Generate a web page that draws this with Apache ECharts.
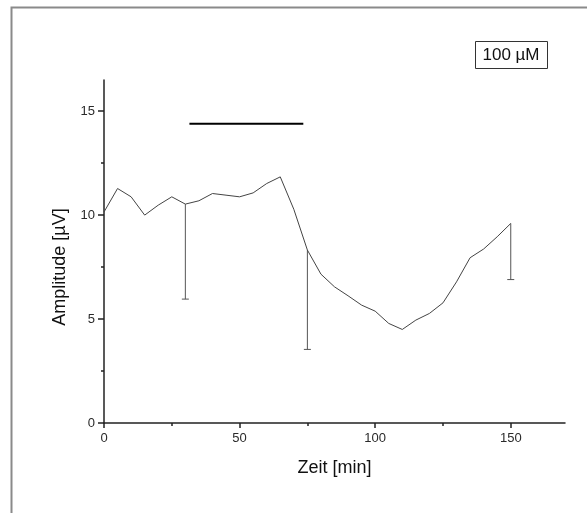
<!DOCTYPE html>
<html>
<head>
<meta charset="utf-8">
<script src="https://cdn.jsdelivr.net/npm/echarts@6/dist/echarts.min.js"></script>
<style>
  html, body { margin: 0; padding: 0; background: #fff; }
  #chart { width: 587px; height: 513px; }
</style>
</head>
<body>
<div id="chart"></div>
<script>
// Time points (min) and mean amplitude (µV)
const zeit = [0, 5, 10, 15, 20, 25, 30, 35, 40, 45, 50, 55, 60, 65, 70, 75, 80, 85, 90, 95, 100, 105, 110, 115, 120, 125, 130, 135, 140, 145, 150];
const amplitude = [10.15, 11.28, 10.88, 10.0, 10.48, 10.88, 10.53, 10.69, 11.04, 10.96, 10.88, 11.07, 11.52, 11.84, 10.28, 8.32, 7.16, 6.55, 6.12, 5.67, 5.38, 4.79, 4.5, 4.95, 5.27, 5.78, 6.79, 7.95, 8.37, 8.96, 9.6];

// Lower error bars (one-sided)
const errZeit = [30, 75, 150];
const errLower = [5.96, 3.54, 6.9];

// Application period bar
const applStart = 31.5;
const applEnd = 73.5;
const applLevel = 14.4;

const konzentration = '100 µM';
const yTitle = 'Amplitude [µV]';
const xTitle = 'Zeit [min]';

const xTicks = [0, 50, 100, 150];
const yTicks = [0, 5, 10, 15];

const font = '"Liberation Sans", Arial, sans-serif';

const lineData = zeit.map((t, i) => [t, amplitude[i]]);
const errData = errZeit.map((t, i) => [t, amplitude[zeit.indexOf(t)], errLower[i]]);

const chart = echarts.init(document.getElementById('chart'), null, { renderer: 'canvas' });

chart.setOption({
  backgroundColor: '#ffffff',
  animation: false,
  textStyle: { fontFamily: font },
  grid: { left: 104, right: 22, top: 80, bottom: 90, containLabel: false },
  xAxis: {
    type: 'value',
    min: 0,
    max: 170,
    interval: 50,
    name: xTitle,
    nameLocation: 'middle',
    nameGap: 36,
    nameTextStyle: { fontSize: 18, color: '#111', fontFamily: font },
    axisLine: { show: true, onZero: false, lineStyle: { color: '#222', width: 1.5 } },
    axisTick: { show: true, inside: false, length: 5, lineStyle: { color: '#222', width: 1.5 },
      customValues: xTicks },
    minorTick: { show: true, splitNumber: 2, length: 3, lineStyle: { color: '#222', width: 1.5 } },
    axisLabel: { fontSize: 13, color: '#2a2a2a', margin: 9, fontFamily: font, customValues: xTicks },
    splitLine: { show: false },
    minorSplitLine: { show: false }
  },
  yAxis: {
    type: 'value',
    min: 0,
    max: 16.5,
    interval: 5,
    axisLine: { show: true, lineStyle: { color: '#222', width: 1.5 } },
    axisTick: { show: true, inside: false, length: 6, lineStyle: { color: '#222', width: 1.5 },
      customValues: yTicks },
    minorTick: { show: true, splitNumber: 2, length: 3, lineStyle: { color: '#222', width: 1.5 } },
    axisLabel: { fontSize: 13, color: '#2a2a2a', margin: 9, fontFamily: font, customValues: yTicks },
    splitLine: { show: false },
    minorSplitLine: { show: false }
  },
  series: [
    {
      type: 'line',
      data: lineData,
      symbol: 'none',
      lineStyle: { color: '#444', width: 1 },
      z: 3
    },
    {
      type: 'custom',
      data: errData,
      z: 2,
      renderItem: function (params, api) {
        const top = api.coord([api.value(0), api.value(1)]);
        const bottom = api.coord([api.value(0), api.value(2)]);
        const capHalf = 3.5;
        return {
          type: 'group',
          children: [
            { type: 'line', shape: { x1: top[0], y1: top[1], x2: bottom[0], y2: bottom[1] },
              style: { stroke: '#555', lineWidth: 1 } },
            { type: 'line', shape: { x1: bottom[0] - capHalf, y1: bottom[1], x2: bottom[0] + capHalf, y2: bottom[1] },
              style: { stroke: '#555', lineWidth: 1 } }
          ]
        };
      }
    },
    {
      type: 'line',
      data: [[applStart, applLevel], [applEnd, applLevel]],
      symbol: 'none',
      lineStyle: { color: '#000', width: 2 },
      z: 3
    }
  ],
  graphic: [
    {
      type: 'rect',
      left: 9, top: 5,
      shape: { width: 620, height: 560 },
      style: { fill: 'none', stroke: '#8a8a8a', lineWidth: 2 },
      silent: true
    },
    {
      type: 'text',
      x: 60, y: 267,
      rotation: Math.PI / 2,
      style: { text: yTitle, font: '18px ' + font, fill: '#111', align: 'center', verticalAlign: 'middle' }
    },
    {
      type: 'rect',
      left: 475, top: 41,
      shape: { width: 72, height: 27 },
      style: { fill: '#fff', stroke: '#333', lineWidth: 1 },
      z: 10
    },
    {
      type: 'text',
      x: 511, y: 55,
      style: { text: konzentration, font: '17px ' + font, fill: '#111', align: 'center', verticalAlign: 'middle' },
      z: 11
    }
  ]
});
</script>
</body>
</html>
